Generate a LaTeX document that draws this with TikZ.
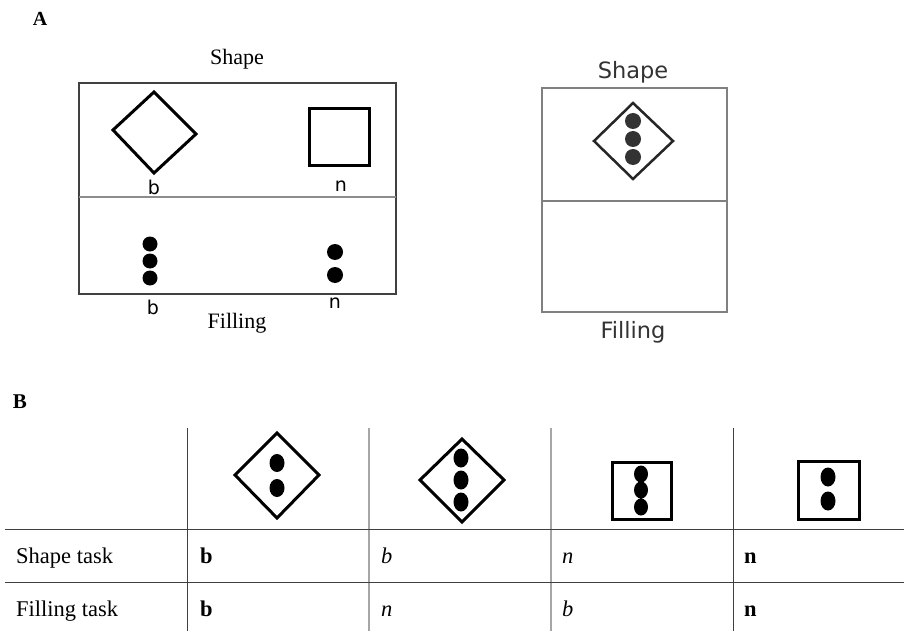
\documentclass[tikz,border=0pt]{standalone}
\usepackage{fontspec}
\setmainfont{Liberation Serif}
\newfontfamily\dvs{DejaVu Sans}
\begin{document}
\begin{tikzpicture}[x=1pt,y=-1pt,
  serif/.style={inner sep=0pt,anchor=base,font=\fontsize{22}{26}\selectfont},
  lbl/.style={inner sep=0pt,anchor=base,font=\dvs\fontsize{19}{22}\selectfont},
  gtxt/.style={inner sep=0pt,anchor=base,text=black!80,font=\dvs\fontsize{22.5}{26}\selectfont},
  cell/.style={inner sep=0pt,anchor=base west,font=\fontsize{22.5}{26}\selectfont},
  panel/.style={draw=black!75,line width=1.2pt},
  gpanel/.style={draw=black!50,line width=1.2pt},
  icon/.style={draw=black,line width=3pt,line join=miter},
  dot/.style={fill=black},
  darkrule/.style={draw=black!75,line width=1pt},
  lightrule/.style={draw=black!35,line width=1.2pt}]
\useasboundingbox (0,0) rectangle (904,631);
\fill[white] (0,0) rectangle (904,631);

% ---------- Panel A ----------
\node[inner sep=0pt,anchor=base,font=\bfseries\fontsize{20}{24}\selectfont] (labA) at (40,26) {A};

% left box
\node[serif] (shapeL) at (237,65) {Shape};
\draw[panel] (79,83) rectangle (396,294);
\draw[draw=black!45,line width=1.2pt] (79,197) -- (396,197);
\node[serif] (fillL) at (237,328) {Filling};
\draw[icon] (113,130) -- (154,92) -- (196,134) -- (154,173) -- cycle;
\draw[icon] (309,109) rectangle (369,166);
\node[lbl] (bS) at (154,194) {b};
\node[lbl] (nS) at (341,192) {n};
\fill[dot] (150,244) circle (7.5) (150,261) circle (7.5) (150,278) circle (7.5);
\fill[dot] (335,252) circle (8) (335,275) circle (8);
\node[lbl] (bF) at (153,314) {b};
\node[lbl] (nF) at (335,308) {n};

% right box
\node[gtxt] (shapeR) at (633,79) {Shape};
\draw[gpanel] (542,88) rectangle (727,312);
\draw[gpanel] (542,201) -- (727,201);
\node[gtxt] (fillR) at (633,338) {Filling};
\draw[draw=black!85,line width=2.5pt,line join=miter] (594,141) -- (633,103) -- (673,141) -- (633,179) -- cycle;
\fill[black!80] (633,121) circle (8) (633,139) circle (8) (633,157) circle (8);

% ---------- Panel B ----------
\node[inner sep=0pt,anchor=base,font=\bfseries\fontsize{21}{24}\selectfont] (labB) at (20,408) {B};

\draw[darkrule] (187,428) -- (187,631);
\draw[lightrule] (369,428) -- (369,631);
\draw[lightrule] (551,428) -- (551,631);
\draw[darkrule] (733,428) -- (733,631);
\draw[darkrule] (5,529) -- (904,529);
\draw[darkrule] (5,582) -- (904,582);

% icons
\draw[icon] (235,475) -- (277,433) -- (319,475) -- (277,518) -- cycle;
\fill[dot] (277,463) ellipse (7.5 and 9) (277,488) ellipse (7.5 and 9);

\draw[icon] (420,480) -- (462,439) -- (504,480) -- (462,522) -- cycle;
\fill[dot] (461,458) ellipse (7.5 and 9.5) (461,480) ellipse (7.5 and 9.5) (461,502) ellipse (7.5 and 9.5);

\draw[icon] (612,462) rectangle (671,519);
\fill[dot] (641,474) ellipse (7 and 8.5) (641,490) ellipse (7 and 8.5) (641,507) ellipse (7 and 8.5);

\draw[icon] (798,461) rectangle (859,519);
\fill[dot] (828,477) ellipse (7.5 and 9.5) (828,501) ellipse (7.5 and 9.5);

% text
\node[cell] (rowS) at (16,563) {Shape task};
\node[cell] (rowF) at (16,616) {Filling task};
\node[cell] (s1) at (200,563) {\textbf{b}};
\node[cell] (s2) at (381,563) {\textit{b}};
\node[cell] (s3) at (562,563) {\textit{n}};
\node[cell] (s4) at (744,563) {\textbf{n}};
\node[cell] (f1) at (200,616) {\textbf{b}};
\node[cell] (f2) at (381,616) {\textit{n}};
\node[cell] (f3) at (562,616) {\textit{b}};
\node[cell] (f4) at (744,616) {\textbf{n}};
\end{tikzpicture}
\end{document}
